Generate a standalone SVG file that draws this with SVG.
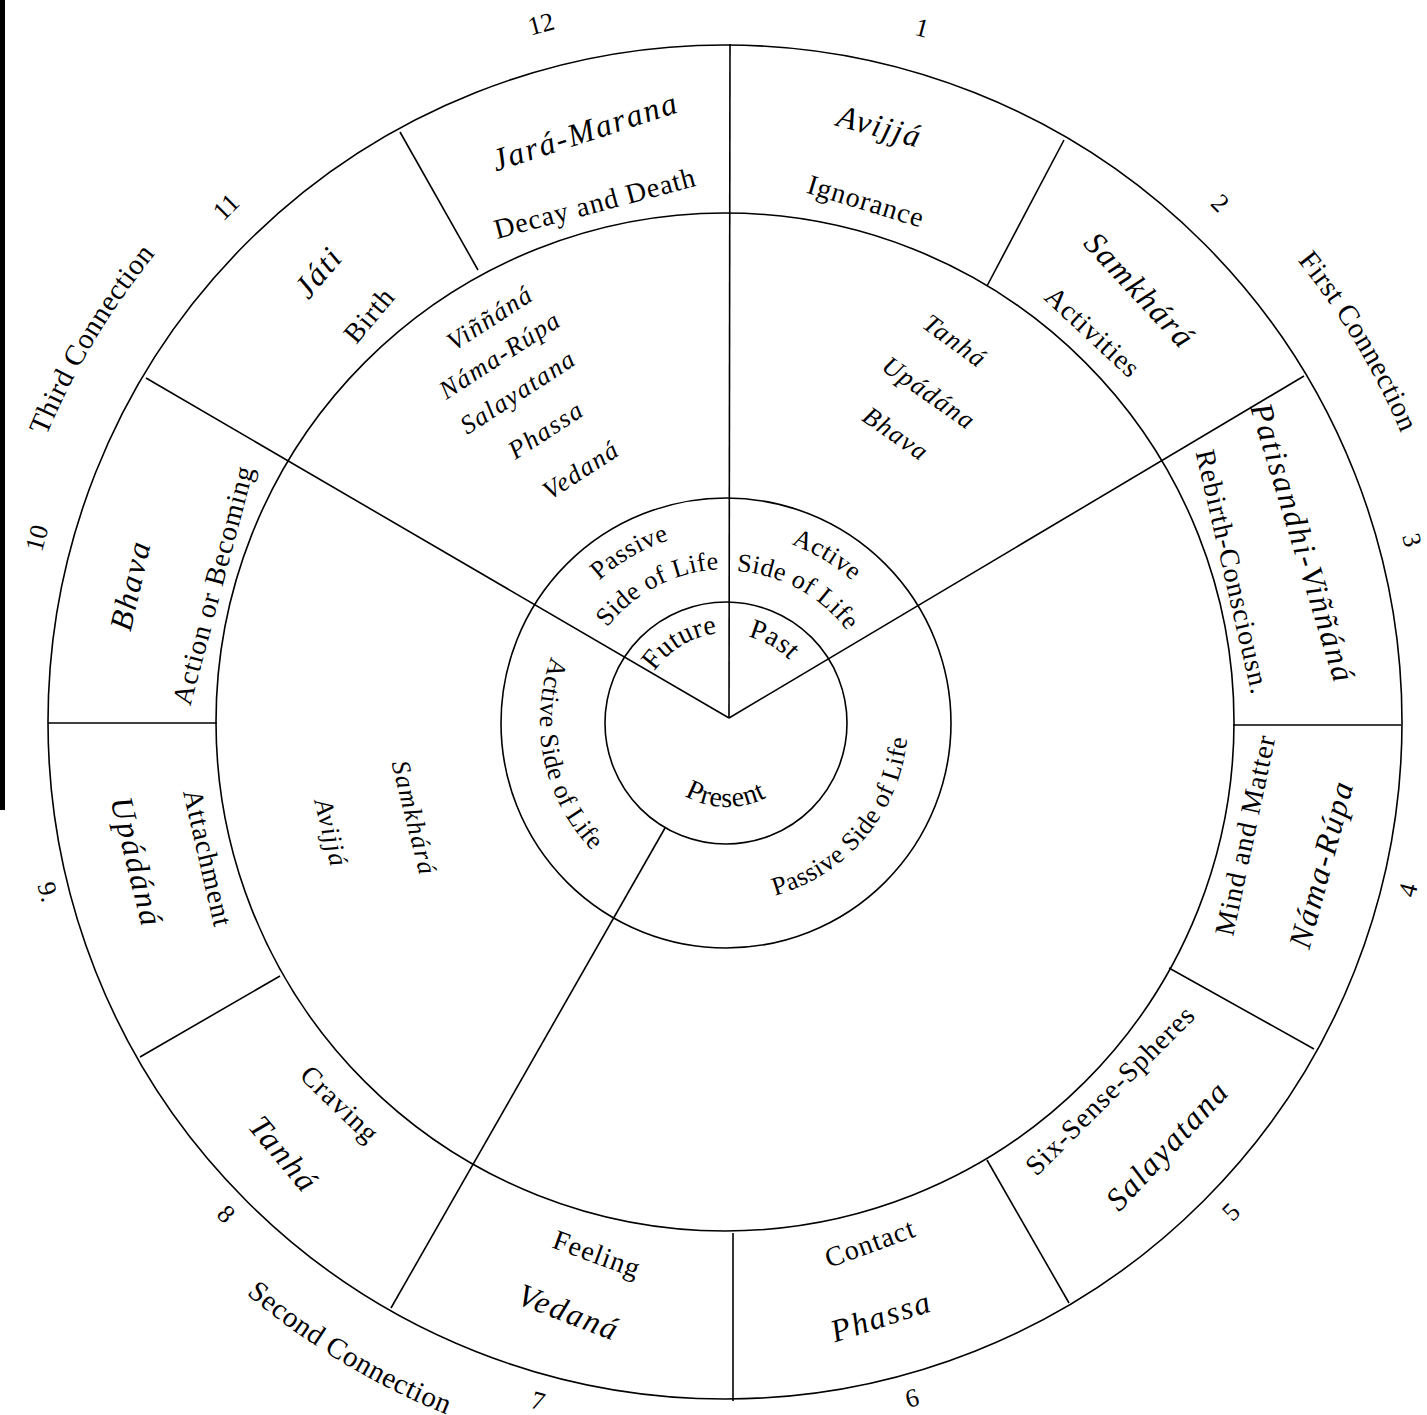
<svg xmlns="http://www.w3.org/2000/svg" width="1427" height="1415" viewBox="0 0 1427 1415">
<style>
.ln{stroke:#000;stroke-width:1.6;fill:none}
text{font-family:"Liberation Serif","Times New Roman",serif;fill:#000;text-anchor:middle;dominant-baseline:central}
.pali{font-style:italic;font-size:32px;letter-spacing:2px}
.eng{font-size:28px;letter-spacing:1px}
.num{font-size:26px}
.inr{font-style:italic;font-size:26px;letter-spacing:1.5px}
.ring{font-size:26px;letter-spacing:0.5px;dominant-baseline:auto}
.time{font-size:28px;letter-spacing:0.5px;dominant-baseline:auto}
.conn{font-size:29px;letter-spacing:0.5px;dominant-baseline:auto}
</style>
<defs>
<path id="pPassive" d="M540.0 688.0 A190 190 0 0 1 792.0 542.5"/>
<path id="pSideL" d="M578.6 688.1 A152 152 0 0 1 785.2 580.6"/>
<path id="pActive" d="M665.8 543.2 A188 188 0 0 1 912.7 691.6"/>
<path id="pSideR" d="M672.0 581.4 A150 150 0 0 1 874.0 691.1"/>
<path id="pActLeft" d="M601.9 582.0 A187 187 0 0 0 669.2 898.9"/>
<path id="pPasRight" d="M695.6 899.3 A181 181 0 0 0 897.1 659.1"/>
<path id="pFuture" d="M640.1 707.2 A88 88 0 0 1 755.7 637.8"/>
<path id="pPast" d="M697.2 639.2 A87 87 0 0 1 812.7 705.9"/>
<path id="pPresent" d="M651.8 762.7 A86 86 0 0 0 800.7 765.3"/>
<path id="pFirst" d="M1082.4 79.9 A733 733 0 0 1 1459.9 708.2"/>
<path id="pThird" d="M-10.9 708.1 A738 738 0 0 1 369.2 75.5"/>
<path id="pSecond" d="M72.8 1083.6 A748 748 0 0 0 713.9 1468.9"/>
</defs>
<rect width="1427" height="1415" fill="#fff"/>
<rect x="0" y="0" width="5" height="810" fill="#000"/>
<g id="wheel" class="ln">
<circle cx="725" cy="722" r="677"/>
<circle cx="725" cy="722" r="509"/>
<circle cx="726" cy="723" r="225"/>
<circle cx="726" cy="723" r="121"/>
</g>
<g id="connectors" class="ln">
<line x1="729" y1="718" x2="730" y2="44"/>
<line x1="729" y1="718" x2="146" y2="378"/>
<line x1="729" y1="718" x2="1304" y2="376"/>
<line x1="665" y1="828" x2="391" y2="1308"/>
<line x1="400" y1="132" x2="478" y2="270"/>
<line x1="987" y1="286" x2="1064" y2="140"/>
<line x1="1233" y1="725" x2="1401" y2="725"/>
<line x1="1169" y1="968" x2="1314" y2="1049"/>
<line x1="987" y1="1160" x2="1069" y2="1303"/>
<line x1="733" y1="1233" x2="733" y2="1401"/>
<line x1="280" y1="976" x2="140" y2="1057"/>
<line x1="48" y1="723" x2="217" y2="723"/>
</g>
<g id="seg1"><text class="pali" transform="translate(880,126) rotate(15)">Avijjá</text><text class="eng" transform="translate(866,201) rotate(17)">Ignorance</text><text class="num" transform="translate(922,28) rotate(15)">1</text></g>
<g id="seg2"><text class="pali" transform="translate(1140,290) rotate(47)">Samkhárá</text><text class="eng" transform="translate(1093,332) rotate(43)">Activities</text><text class="num" transform="translate(1220,203) rotate(45)">2</text></g>
<g id="seg3"><text class="pali" transform="translate(1303,543) rotate(73)">Patisandhi-Viññáná</text><text class="eng" transform="translate(1233,572) rotate(77)">Rebirth-Consciousn.</text><text class="num" transform="translate(1412,540) rotate(75)">3</text></g>
<g id="seg4"><text class="pali" transform="translate(1321,864) rotate(-75)">Náma-Rúpa</text><text class="eng" transform="translate(1245,835) rotate(-78)">Mind and Matter</text><text class="num" transform="translate(1408,890) rotate(-75)">4</text></g>
<g id="seg5"><text class="pali" transform="translate(1167,1145) rotate(-47)">Salayatana</text><text class="eng" transform="translate(1110,1090) rotate(-45)">Six-Sense-Spheres</text><text class="num" transform="translate(1231,1212) rotate(-45)">5</text></g>
<g id="seg6"><text class="pali" transform="translate(881,1316) rotate(-18)">Phassa</text><text class="eng" transform="translate(870,1243) rotate(-20)">Contact</text><text class="num" transform="translate(912,1398) rotate(-15)">6</text></g>
<g id="seg7"><text class="pali" transform="translate(569,1312) rotate(21)">Vedaná</text><text class="eng" transform="translate(597,1254) rotate(20)">Feeling</text><text class="num" transform="translate(538,1401) rotate(15)">7</text></g>
<g id="seg8"><text class="pali" transform="translate(284,1154) rotate(50)">Tanhá</text><text class="eng" transform="translate(340,1104) rotate(44)">Craving</text><text class="num" transform="translate(226,1214) rotate(45)">8</text></g>
<g id="seg9"><text class="pali" transform="translate(137,862) rotate(76)">Upádáná</text><text class="eng" transform="translate(208,858) rotate(77)">Attachment</text><text class="num" transform="translate(48,892) rotate(75)">9.</text></g>
<g id="seg10"><text class="pali" transform="translate(130,585) rotate(-77)">Bhava</text><text class="eng" transform="translate(213,585) rotate(-75)">Action or Becoming</text><text class="num" transform="translate(37,538) rotate(-75)">10</text></g>
<g id="seg11"><text class="pali" transform="translate(318,272) rotate(-50)">Játi</text><text class="eng" transform="translate(369,315) rotate(-50)">Birth</text><text class="num" transform="translate(226,207) rotate(-45)">11</text></g>
<g id="seg12"><text class="pali" transform="translate(585,131) rotate(-18)">Jará-Marana</text><text class="eng" transform="translate(595,203) rotate(-15)">Decay and Death</text><text class="num" transform="translate(541,24) rotate(-15)">12</text></g>
<g id="sector-future">
<text class="inr" transform="translate(490,318) rotate(-33)">Viññáná</text>
<text class="inr" transform="translate(500,355) rotate(-33)">Náma-Rúpa</text>
<text class="inr" transform="translate(518,392) rotate(-33)">Salayatana</text>
<text class="inr" transform="translate(546,430) rotate(-33)">Phassa</text>
<text class="inr" transform="translate(581,470) rotate(-33)">Vedaná</text>
</g>
<g id="sector-present">
<text class="inr" transform="translate(955,341) rotate(36)">Tanhá</text>
<text class="inr" transform="translate(929,393) rotate(35)">Upádána</text>
<text class="inr" transform="translate(896,434) rotate(35)">Bhava</text>
</g>
<g id="sector-past">
<text class="inr" transform="translate(414,818) rotate(76)">Samkhárá</text>
<text class="inr" transform="translate(331,833) rotate(76)">Avijjá</text>
</g>
<g id="life-sides">
<text class="ring"><textPath href="#pPassive" startOffset="50%">Passive</textPath></text>
<text class="ring"><textPath href="#pSideL" startOffset="50%">Side of Life</textPath></text>
<text class="ring"><textPath href="#pActive" startOffset="50%">Active</textPath></text>
<text class="ring"><textPath href="#pSideR" startOffset="50%">Side of Life</textPath></text>
<text class="ring"><textPath href="#pActLeft" startOffset="50%">Active Side of Life</textPath></text>
<text class="ring"><textPath href="#pPasRight" startOffset="50%">Passive Side of Life</textPath></text>
</g>
<g id="times">
<text class="time"><textPath href="#pFuture" startOffset="50%">Future</textPath></text>
<text class="time"><textPath href="#pPast" startOffset="50%">Past</textPath></text>
<text class="time"><textPath href="#pPresent" startOffset="50%">Present</textPath></text>
</g>
<g id="connections">
<text class="conn"><textPath href="#pFirst" startOffset="50%">First Connection</textPath></text>
<text class="conn"><textPath href="#pThird" startOffset="50%">Third Connection</textPath></text>
<text class="conn"><textPath href="#pSecond" startOffset="50%">Second Connection</textPath></text>
</g>
</svg>
